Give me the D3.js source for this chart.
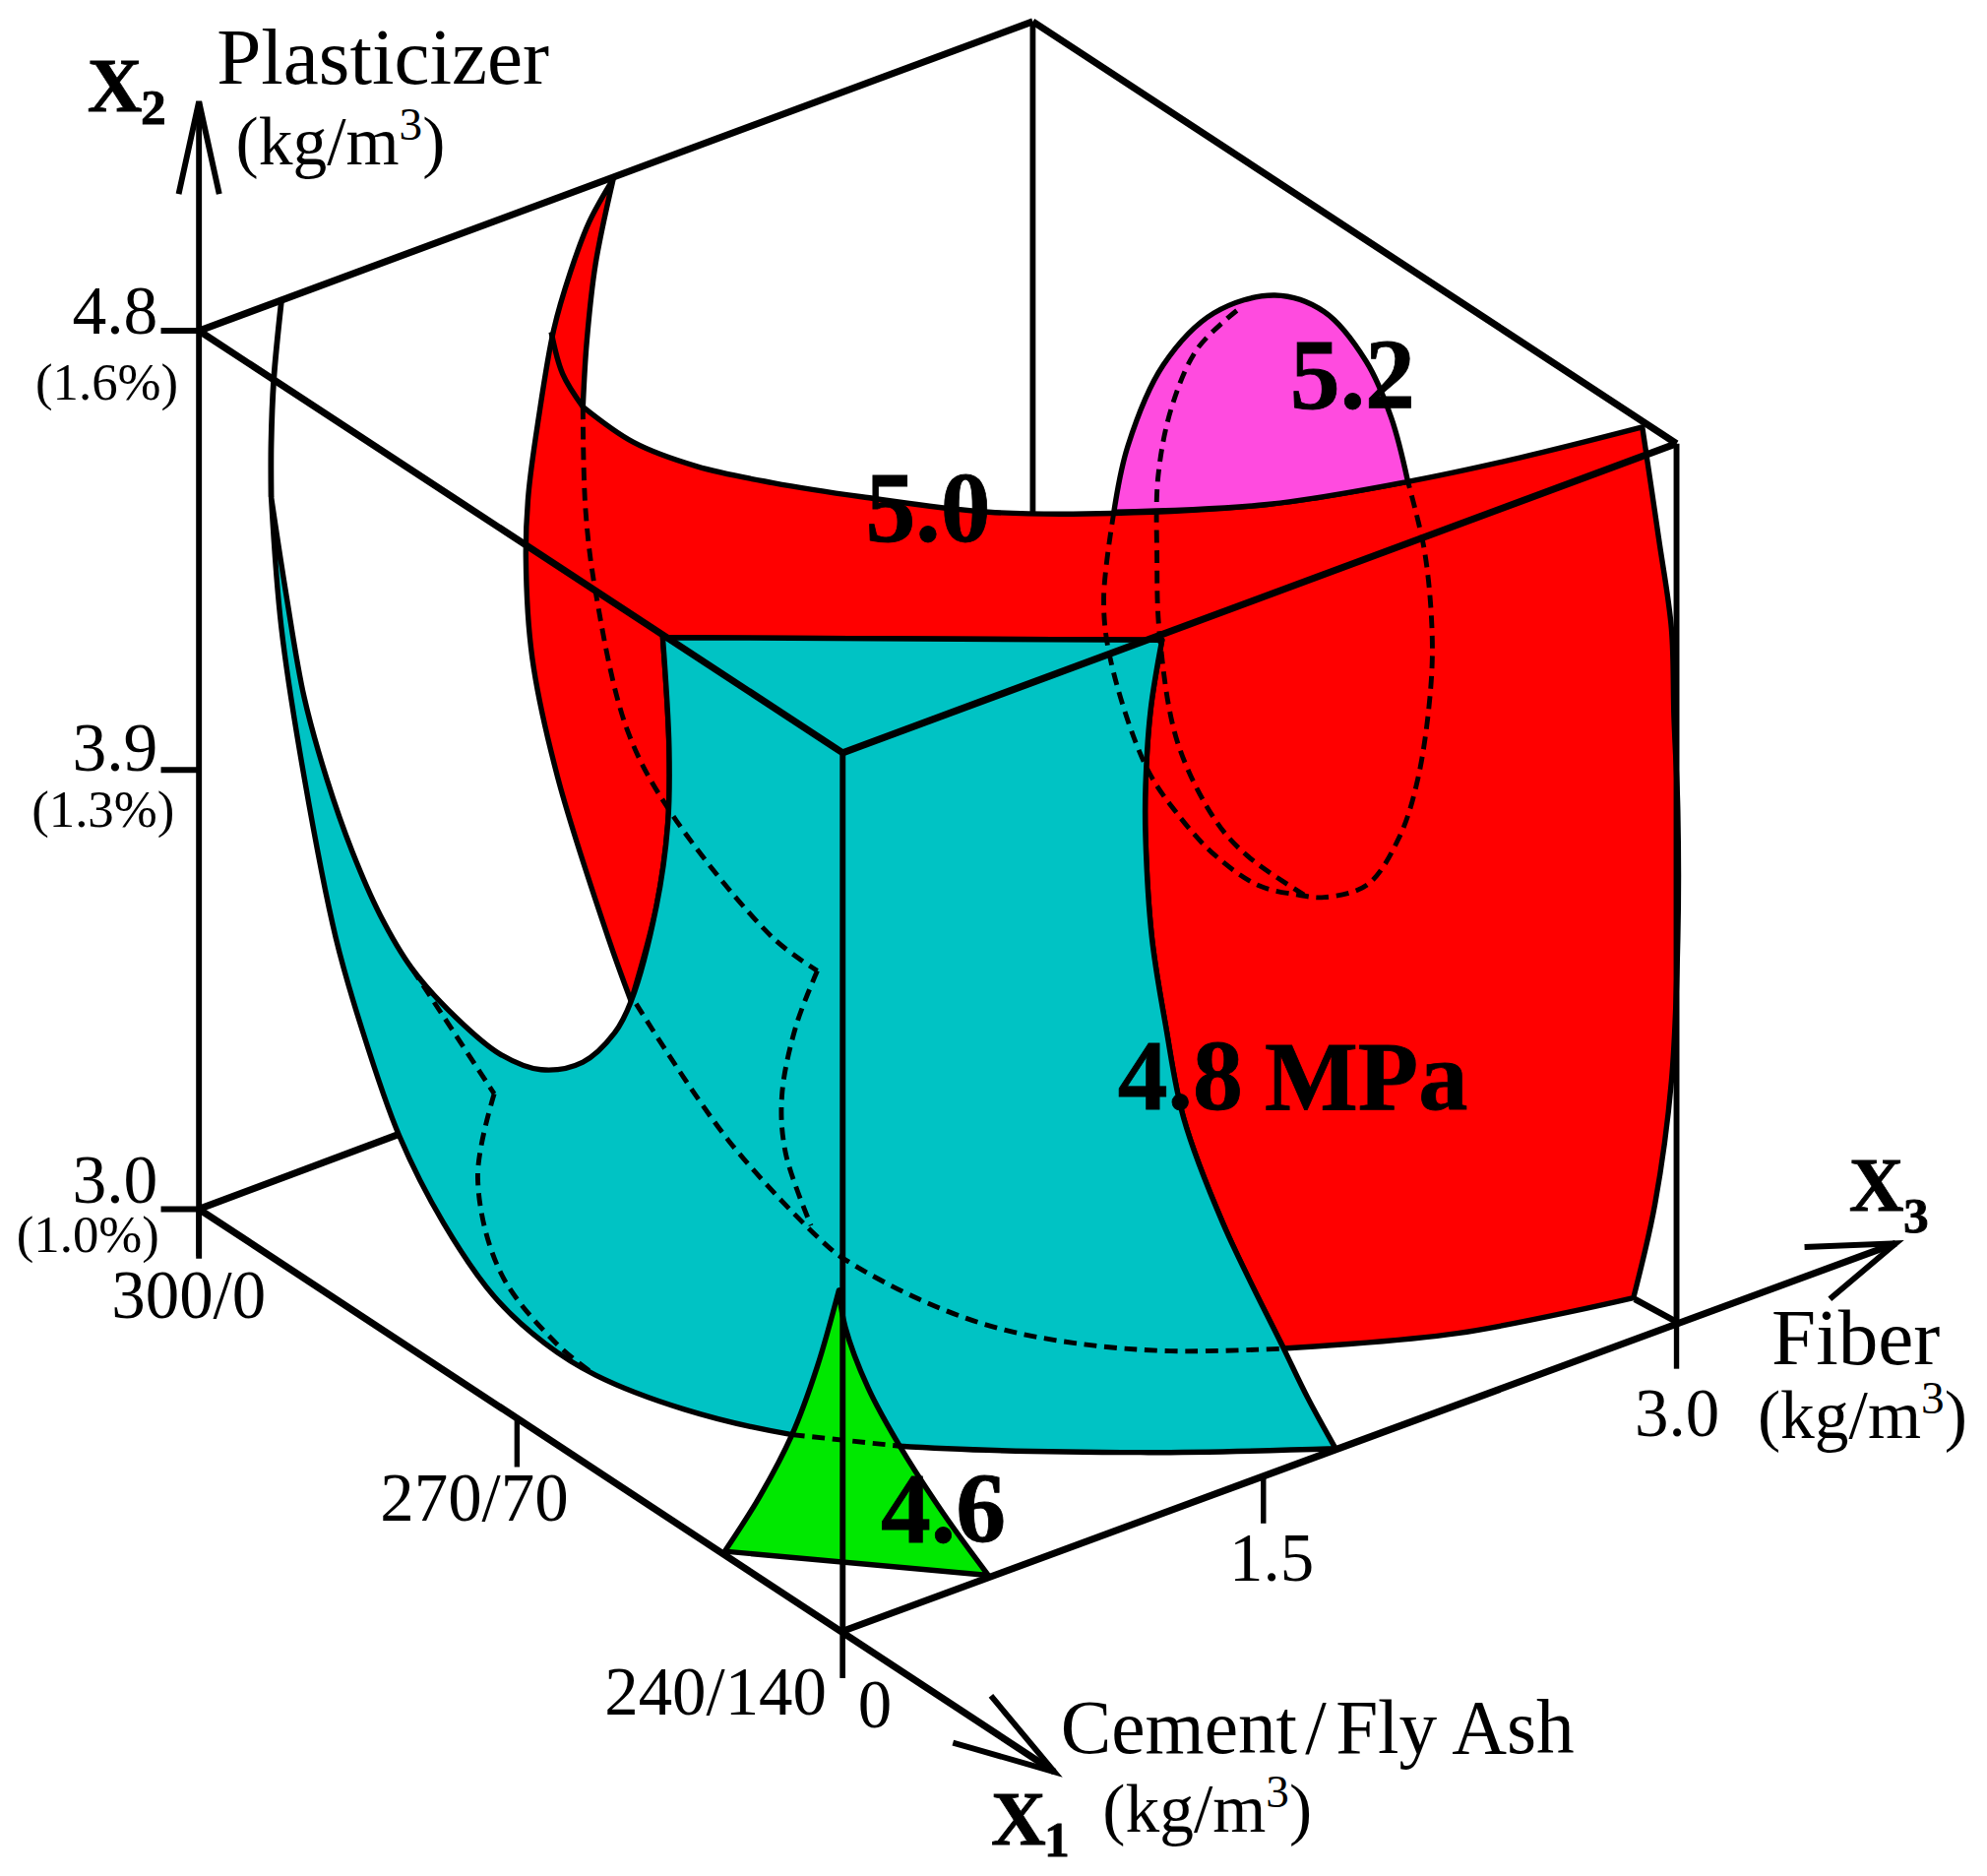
<!DOCTYPE html>
<html>
<head>
<meta charset="utf-8">
<title>Flexural strength response surfaces</title>
<script src="https://cdnjs.cloudflare.com/ajax/libs/d3/7.8.5/d3.min.js"></script>
<style>
html,body{margin:0;padding:0;background:#fff}
svg{display:block}
text{font-family:"Liberation Serif","Times New Roman",serif;fill:#000}
</style>
</head>
<body>
<svg id="chart" width="2019" height="1906"></svg>
<script>
// ---- axis values ----
const plasticizerTicks = [3.0, 3.9, 4.8];
const plasticizerPct = ["(1.0%)", "(1.3%)", "(1.6%)"];
const flyAshTicks = [0, 70, 140];
const cementLabels = ["300/0", "270/70", "240/140"];
const fiberTicks = [0, 1.5, 3.0];

// ---- iso-strength contours (diagram units) ----
const redTail = [[484,141],[465,175],[450,215],[437,260],[425,330],[417,390],[415,440],[420,519],[440,613],[480,740],[498,790]];
const redHoleEdge = [[498,790],[518,715],[527,650],[528,590],[523,503]];
const redTop = [[523,503],[917,505]];
const sideCurve = [[917,505],[908,560],[904,620],[904,661],[909,740],[920,810],[934,882],[965,965],[1013,1064]];
const redBottom = [[1013,1064],[1150,1052],[1289,1024]];
const redRight = [[1289,1024],[1306,950],[1319,853],[1324,740],[1324,640],[1321,566],[1319,496],[1309,425],[1296,337]];
const redUpper = [[1296,337],[1200,361],[1111,380],[1000,398],[879,405],[780,404],[680,392],[610,381],[550,368],[500,349],[460,321]];
const redTailInner = [[460,321],[463,270],[470,208],[484,141]];
const redFold = [[435,262],[444,295],[460,321]];

const tealSpine = [[222,238],[216,300],[214,350],[214,392]];
const tealOuter = [[214,392],[222,495],[240,613],[265,740],[285,810],[315,896],[350,965],[390,1023],[430,1060],[470,1085],[540,1112],[625,1132],[710,1141],[900,1146],[1054,1143]];
const tealRight = [[1054,1143],[1032,1103],[1013,1064],[965,965],[934,882],[920,810],[909,740],[904,661],[904,620],[908,560],[917,505]];
const tealTop = [[917,505],[523,503]];
const tealHole = [[523,503],[528,590],[527,650],[518,715],[498,790],[485,815],[460,838],[427,844],[395,832],[360,803],[325,764],[300,722],[278,672],[258,615],[240,550],[226,470],[214,392]];

const magentaArc = [[879,404],[890,352],[918,288],[958,247],[1006,233],[1045,246],[1078,285],[1098,330],[1111,380]];
const magentaBase = [[1111,380],[1000,398],[879,404]];

const greenLeft = [[662,1018],[645,1078],[625,1132],[600,1180],[572,1224]];
const greenBase = [[572,1224],[780,1243]];
const greenRight = [[780,1243],[745,1195],[710,1141],[685,1095],[667,1047],[662,1018]];

const hiddenOuter = [[879,404],[871,472],[876,519],[904,604],[929,642],[959,675],[994,699],[1024,706],[1045,708],[1079,698],[1104,661],[1119,614],[1129,543],[1130,496],[1124,434],[1111,380]];
const hiddenInner = [[976,245],[945,275],[925,320],[914,375],[913,440],[915,500],[929,585],[959,647],[984,675],[1029,706]];
const hiddenTealA = [[460,321],[462,401],[470,467],[495,576],[530,642],[610,740],[645,766]];
const hiddenTealB = [[645,766],[628,810],[617,865],[620,910],[640,967]];
const hiddenFloor = [[502,792],[575,900],[655,985],[672,997],[725,1025],[784,1047],[850,1060],[924,1066],[1014,1064]];
const hiddenLeftA = [[325,764],[390,863]];
const hiddenLeftB = [[390,863],[377,929],[395,1004],[440,1061],[470,1085]];
const hiddenGreen = [[625,1132],[710,1141]];

// ---- scales ----
const W = 2019, H = 1906;
const sx = d3.scaleLinear().domain([0, 1568]).range([0, W]);
const sy = d3.scaleLinear().domain([0, 1480.2]).range([0, H]);
const k = W / 1568;

// oblique projection of the three factors
const yX2 = d3.scaleLinear().domain([3.0, 4.8]).range([0, -693]);
const eCement = d3.scaleLinear().domain([140, 0]).range([0, 1]);
const eFiber = d3.scaleLinear().domain([0, 3]).range([0, 1]);
function P(ash, plast, fib) {
  const a = eCement(ash), f = eFiber(fib);
  return [665 + a * (157 - 665) + f * (1323 - 665),
          1287 + a * (954 - 1287) + f * (1043 - 1287) + yX2(plast)];
}

const svg = d3.select("#chart");
const curve = d3.line().x(d => sx(d[0])).y(d => sy(d[1])).curve(d3.curveCatmullRom.alpha(0.5));
const straight = d3.line().x(d => sx(d[0])).y(d => sy(d[1]));
function joined(...segs) {
  return segs.map((s, i) => {
    const p = (s.length > 2 ? curve : straight)(s);
    return i ? "L" + p.slice(1) : p;
  }).join("") + "Z";
}
function seg(a, w, dashes, poly) {
  const el = svg.append("path").attr("d", (a.length > 2 && !poly ? curve : straight)(a))
    .attr("fill", "none").attr("stroke", "#000").attr("stroke-width", w * k).attr("stroke-linecap", "butt");
  if (dashes) el.attr("stroke-dasharray", dashes.map(v => v * k).join(" "));
  return el;
}
function area(segs, color) {
  svg.append("path").attr("d", joined(...segs))
    .attr("fill", color).attr("stroke", "#000").attr("stroke-width", outline * k).attr("stroke-linejoin", "round");
}

const A = P(0,4.8,0), F = P(140,4.8,0), R = P(140,4.8,3);
const Lbot = P(0,3.0,0), O = P(140,3.0,0), Rbot = P(140,3.0,3);
const back = [A[0] + R[0] - F[0], A[1] + R[1] - F[1]];
const outline = 4.2;

// back box lines, hidden by the surfaces
seg([back, [back[0], 406]], 4.5);
seg([Lbot, [320, 893]], 5.5);
seg([Rbot, [1290, 1025]], 5);

// surfaces
area([redTail, redHoleEdge, redTop, sideCurve, redBottom, redRight, redUpper, redTailInner], "#ff0000");
seg(redFold, outline);
area([tealOuter, tealRight, tealTop, tealHole], "#00c3c4");
seg(tealSpine, 4.5);
area([magentaArc, magentaBase], "#ff4bdf");
area([greenLeft, greenBase, greenRight], "#00e800");

// hidden contours
const dash = [10, 6];
[hiddenOuter, hiddenInner, hiddenTealA, hiddenTealB, hiddenFloor, hiddenLeftA, hiddenLeftB, hiddenGreen]
  .forEach(a => seg(a, 3.8, dash));

// box edges in front
seg([A, back], 5.5);
seg([back, R], 5.5);
seg([A, F], 5.5);
seg([F, R], 5.5);
seg([F, O], 4.6);
seg([R, Rbot], 4.6);

// axes
const x2Tip = [157, 80];
seg([x2Tip, [157, 993]], 4.6);
seg([[141, 153], x2Tip, [173, 153]], 4.6, null, true);
const x1Tip = [832, 1398];
seg([Lbot, x1Tip], 5.5);
seg([[752, 1375], x1Tip, [782, 1338]], 4.6, null, true);
const x3Tip = [1496, 981];
seg([O, x3Tip], 5.5);
seg([[1424, 984], x3Tip, [1444, 1025]], 4.6, null, true);

plasticizerTicks.forEach(v => {
  const p = P(0, v, 0);
  seg([[p[0] - 30, p[1]], p], 4.6);
});
flyAshTicks.forEach((v, i) => {
  const p = P(v, 3.0, 0), nudge = [0, -3, 0][i];
  seg([[p[0] + nudge, p[1]], [p[0] + nudge, p[1] + 37]], 4.2);
});
fiberTicks.forEach((v, i) => {
  const p = P(140, 3.0, v), nudge = [0, 3, 0][i];
  seg([[p[0] + nudge, p[1]], [p[0] + nudge, p[1] + 37]], 4.2);
});

// text
function label(str, x, y, size, bold) {
  const t = svg.append("text").attr("x", sx(x)).attr("y", sy(y))
    .attr("font-size", size * k).attr("font-weight", bold ? 700 : 400).text(str);
  if (bold) t.attr("stroke", "#000").attr("stroke-width", 0.8);
  return t;
}
function sub(main, s, x, y, size, dx, dy, ssize) {
  label(main, x, y, size, true);
  label(s, x + dx, y + dy, ssize, true);
}
function unit(x, y, size) {
  const t = label("(kg/m", x, y, size);
  t.append("tspan").attr("font-size", size * 0.68 * k).attr("dy", -size * 0.36 * k).text("3");
  t.append("tspan").attr("dy", size * 0.36 * k).text(")");
}
label("Plasticizer", 171, 66, 63);
unit(186, 130, 54);
sub("X", "2", 69, 88, 60, 42, 10, 40);
plasticizerTicks.forEach((v, i) => {
  label(v.toFixed(1), 57, [949, 608, 263][i], 54);
  label(plasticizerPct[i], [13, 25, 28][i], [988, 652, 315][i], 41);
});
label(cementLabels[0], 88, 1040, 53.5);
label(cementLabels[1], 300, 1200, 53.5);
label(cementLabels[2], 477, 1353, 53.5);
label(fiberTicks[0].toString(), 677, 1363, 53.5);
label(fiberTicks[1].toFixed(1), 970, 1247, 53.5);
label(fiberTicks[2].toFixed(1), 1290, 1133, 53.5);
label("Fiber", 1398, 1076, 63);
unit(1387, 1135, 54);
sub("X", "3", 1459, 955, 60, 43, 17, 40);
sub("X", "1", 782, 1455, 60, 42, 10, 40);
label("Cement", 837, 1383, 60);
label("/", 1030, 1383, 60);
label("Fly Ash", 1054, 1383, 60);
unit(870, 1445, 54);
label("5.0", 683, 427, 79, true);
label("5.2", 1018, 322, 79, true);
label("4.6", 695, 1217, 79, true);
label("4.8", 882, 875, 79, true);
label("MPa", 998, 875, 78, true);
</script>
</body>
</html>
